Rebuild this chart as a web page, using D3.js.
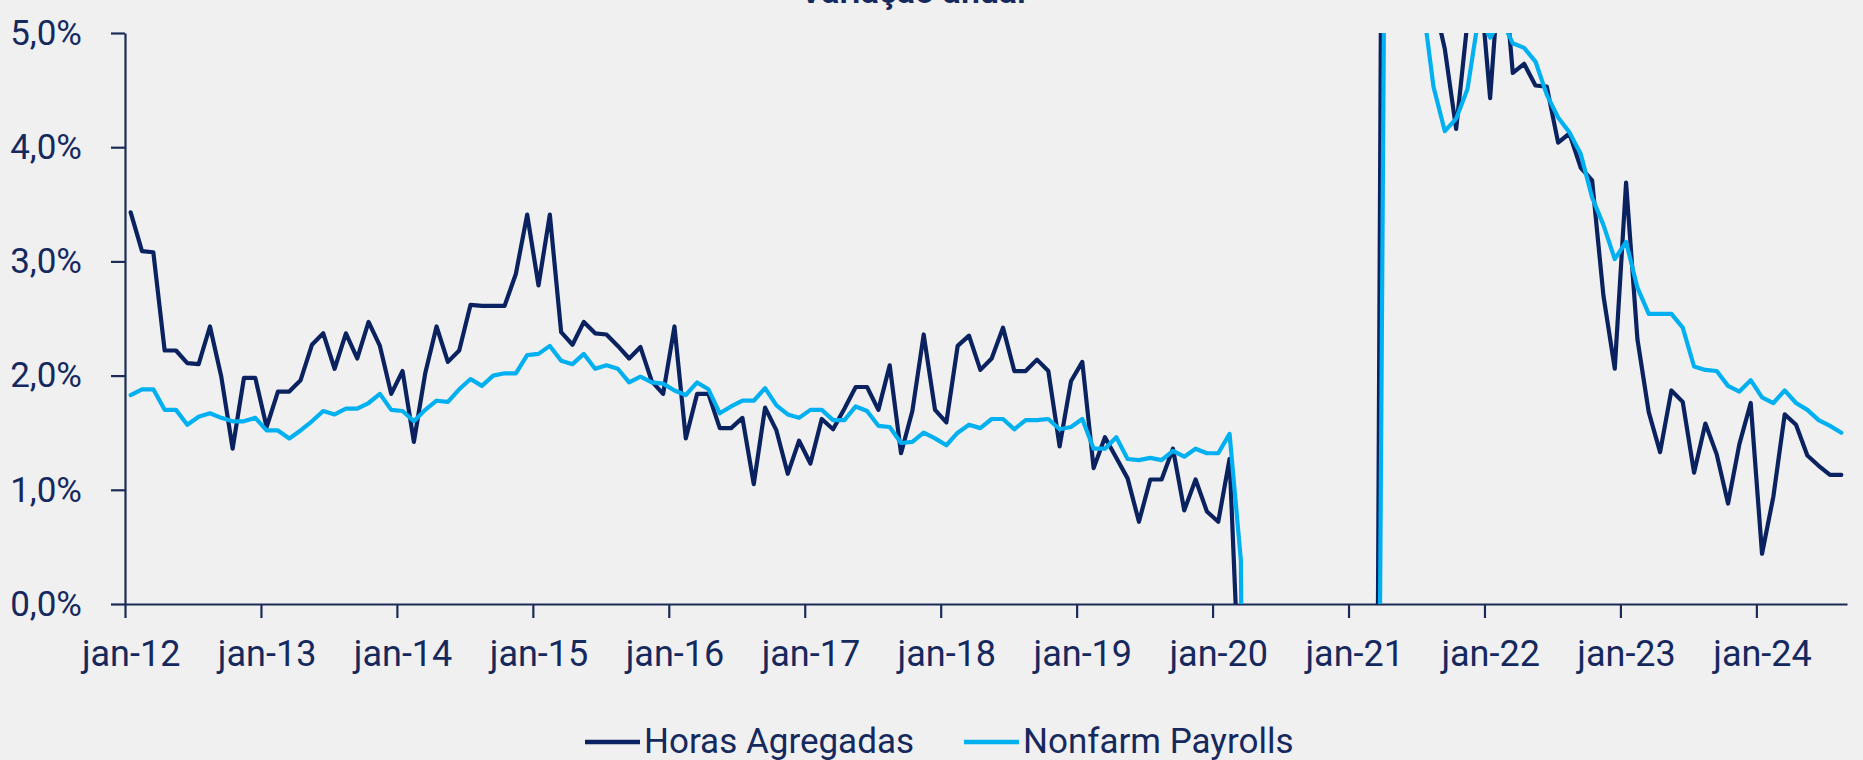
<!DOCTYPE html>
<html>
<head>
<meta charset="utf-8">
<script src="https://cdn.jsdelivr.net/npm/d3@7"></script>
<style>
  html, body { margin: 0; padding: 0; background: #f0f0f0; }
  svg { display: block; font-family: Roboto, "Noto Sans", sans-serif; }
</style>
</head>
<body>
<svg id="chart" width="1863" height="760"></svg>
<script>
// Variação anual, jan-12 .. ago-24 (mensal, %)
const startMonth = new Date(2012, 0, 1);
const months = d3.timeMonth.range(startMonth, new Date(2024, 8, 1));

const horasAgregadas = [
  3.43, 3.09, 3.08, 2.22, 2.22, 2.11, 2.10, 2.43, 1.99, 1.36, 1.98, 1.98,
  1.55, 1.86, 1.86, 1.96, 2.27, 2.37, 2.06, 2.37, 2.15, 2.47, 2.26, 1.84,
  2.04, 1.42, 2.02, 2.43, 2.12, 2.22, 2.62, 2.61, 2.61, 2.61, 2.89, 3.41,
  2.79, 3.41, 2.38, 2.27, 2.47, 2.37, 2.36, 2.26, 2.15, 2.25, 1.95, 1.84,
  2.43, 1.45, 1.84, 1.84, 1.54, 1.54, 1.63, 1.05, 1.72, 1.52, 1.14, 1.43,
  1.23, 1.62, 1.53, 1.71, 1.90, 1.90, 1.70, 2.09, 1.32, 1.69, 2.36, 1.70,
  1.59, 2.26, 2.35, 2.05, 2.15, 2.42, 2.04, 2.04, 2.14, 2.04, 1.38, 1.95,
  2.12, 1.19, 1.46, 1.28, 1.10, 0.72, 1.09, 1.09, 1.36, 0.82, 1.09, 0.81,
  0.72, 1.27, -1.1, -15.5, -13.0, -10.2, -8.6, -7.2, -6.1, -5.2, -4.9, -5.1,
  -4.6, -5.4, -2.0, 18.0, 14.0, 9.5, 7.0, 5.3, 4.86, 4.16, 5.1, 5.57,
  4.43, 5.8, 4.65, 4.73, 4.54, 4.53, 4.04, 4.12, 3.82, 3.71, 2.70, 2.06,
  3.69, 2.32, 1.68, 1.33, 1.87, 1.77, 1.15, 1.58, 1.31, 0.88, 1.40, 1.76,
  0.44, 0.94, 1.66, 1.57, 1.30, 1.21, 1.13, 1.13
];

const nonfarmPayrolls = [
  1.83, 1.88, 1.88, 1.70, 1.70, 1.57, 1.64, 1.67, 1.63, 1.60, 1.60, 1.63,
  1.52, 1.52, 1.45, 1.52, 1.60, 1.69, 1.66, 1.71, 1.71, 1.76, 1.84, 1.70,
  1.69, 1.60, 1.70, 1.78, 1.77, 1.88, 1.97, 1.91, 2.00, 2.02, 2.02, 2.18,
  2.19, 2.26, 2.13, 2.10, 2.19, 2.06, 2.09, 2.06, 1.94, 1.99, 1.94, 1.93,
  1.87, 1.83, 1.94, 1.88, 1.67, 1.73, 1.78, 1.78, 1.89, 1.74, 1.66, 1.63,
  1.70, 1.70, 1.61, 1.61, 1.73, 1.69, 1.56, 1.55, 1.41, 1.42, 1.50, 1.45,
  1.39, 1.50, 1.57, 1.54, 1.62, 1.62, 1.53, 1.61, 1.61, 1.62, 1.53, 1.55,
  1.62, 1.36, 1.36, 1.46, 1.27, 1.26, 1.28, 1.26, 1.34, 1.29, 1.36, 1.32,
  1.32, 1.49, 0.38, -13.0, -11.2, -8.9, -7.6, -6.7, -6.1, -5.7, -5.6, -6.0,
  -6.0, -5.8, -4.2, 10.7, 9.0, 7.0, 5.3, 4.53, 4.14, 4.25, 4.51, 5.15,
  4.96, 5.12, 4.91, 4.87, 4.75, 4.46, 4.26, 4.13, 3.94, 3.56, 3.32, 3.02,
  3.17, 2.77, 2.54, 2.54, 2.54, 2.42, 2.08, 2.05, 2.04, 1.91, 1.86, 1.96,
  1.81, 1.76, 1.87, 1.76, 1.70, 1.61, 1.56, 1.50
];

const yTicks = [0, 1, 2, 3, 4, 5];
const xTickLabels = ["jan-12", "jan-13", "jan-14", "jan-15", "jan-16", "jan-17", "jan-18",
  "jan-19", "jan-20", "jan-21", "jan-22", "jan-23", "jan-24"];

const series = [
  { name: "Horas Agregadas", values: horasAgregadas, color: "#0b2260" },
  { name: "Nonfarm Payrolls", values: nonfarmPayrolls, color: "#00b0f0" }
];

const textColor = "#16295e";
const axisColor = "#1a2b57";

const svg = d3.select("#chart");
const plotLeft = 125, plotRight = 1847, plotTop = 33, plotBottom = 604;

// Scales: categorias mensais, ponto no centro de cada categoria
const x = d3.scaleLinear().domain([0, months.length]).range([plotLeft, plotRight]);
const xc = i => x(i + 0.5);
const y = d3.scaleLinear().domain([0, 5]).range([plotBottom, plotTop]);

// Title (cut at the top edge in the source)
svg.append("text")
  .attr("x", 913)
  .attr("y", 3)
  .attr("text-anchor", "middle")
  .attr("fill", textColor)
  .style("font-size", "34px")
  .style("font-weight", 600)
  .text("Variação anual");

// Clip to plot area
svg.append("defs").append("clipPath")
  .attr("id", "plot-clip")
  .append("rect")
  .attr("x", plotLeft)
  .attr("y", plotTop)
  .attr("width", plotRight - plotLeft)
  .attr("height", plotBottom - plotTop);

// Y axis
const yAxisG = svg.append("g")
  .attr("transform", `translate(${plotLeft},0)`)
  .call(d3.axisLeft(y)
    .tickValues(yTicks)
    .tickSize(14)
    .tickSizeOuter(0)
    .tickPadding(29)
    .tickFormat(d => d.toFixed(1).replace(".", ",") + "%"));

// X axis: ticks on january boundaries, labels centred on january
const yearStarts = xTickLabels.map((_, k) => k * 12);
const xAxisG = svg.append("g")
  .attr("transform", `translate(0,${plotBottom})`)
  .call(d3.axisBottom(x)
    .tickValues(yearStarts)
    .tickSize(14)
    .tickSizeOuter(0)
    .tickPadding(22)
    .tickFormat((d, k) => xTickLabels[k]));

xAxisG.selectAll(".tick text")
  .attr("dx", x(0.5) - x(0));

[yAxisG, xAxisG].forEach(g => {
  g.select(".domain").attr("stroke", axisColor).attr("stroke-width", 2.2);
  g.selectAll(".tick line").attr("stroke", axisColor).attr("stroke-width", 2.2);
  g.selectAll(".tick text")
    .attr("fill", textColor)
    .style("font-size", "35px")
    .style("font-family", "Roboto, sans-serif");
});
xAxisG.selectAll(".tick text").style("font-size", "36px");

// Lines
const line = d3.line()
  .x((d, i) => xc(i))
  .y(d => y(d));

svg.append("g")
  .attr("clip-path", "url(#plot-clip)")
  .selectAll("path")
  .data(series)
  .join("path")
  .attr("d", d => line(d.values))
  .attr("fill", "none")
  .attr("stroke", d => d.color)
  .attr("stroke-width", 4.2)
  .attr("stroke-linejoin", "round")
  .attr("stroke-linecap", "round");

// Legend
const legendX = [585, 964];
const legend = svg.append("g")
  .selectAll("g")
  .data(series)
  .join("g")
  .attr("transform", (d, i) => `translate(${legendX[i]},742)`);

legend.append("line")
  .attr("x1", 0)
  .attr("x2", 55)
  .attr("stroke", d => d.color)
  .attr("stroke-width", 4.5);

legend.append("text")
  .attr("x", 59)
  .attr("y", 11)
  .attr("fill", textColor)
  .style("font-size", "35px")
  .text(d => d.name);
</script>
</body>
</html>
